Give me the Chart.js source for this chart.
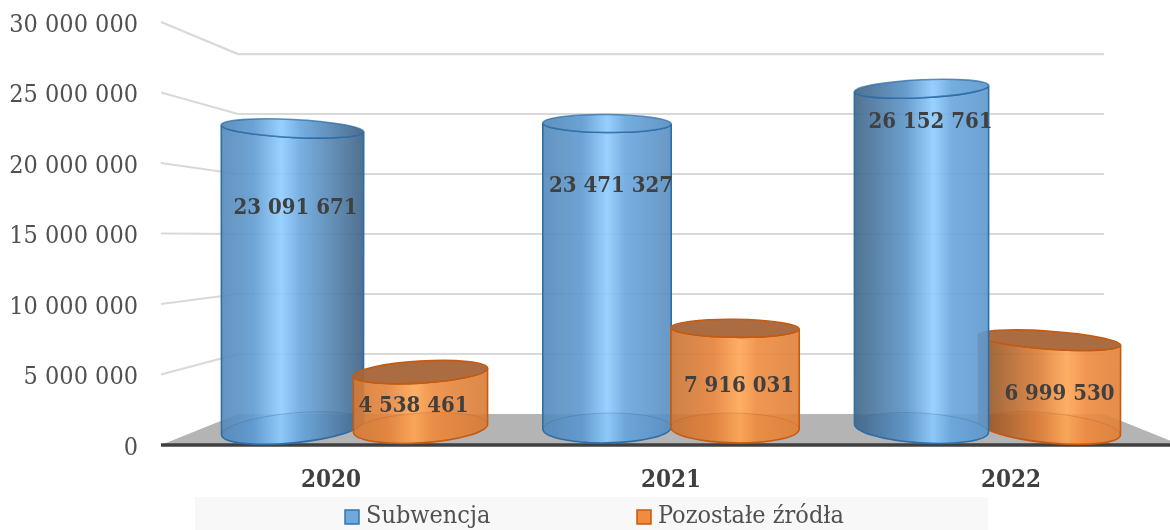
<!DOCTYPE html>
<html lang="pl">
<head>
<meta charset="utf-8">
<style>
html,body{margin:0;padding:0;background:#fff;overflow:hidden;width:1170px;height:530px}
#wrap{position:relative;width:1170px;height:530px;overflow:hidden}
canvas{display:block}
</style>
<script src="https://cdn.jsdelivr.net/npm/chart.js@4/dist/chart.umd.js"></script>
</head>
<body>
<div id="wrap"><canvas id="c" width="1190" height="530"></canvas></div>
<script>
const categories = ['2020', '2021', '2022'];
const subwencja = [23091671, 23471327, 26152761];
const pozostale = [4538461, 7916031, 6999530];
const seriesNames = ['Subwencja', 'Pozostałe źródła'];
const yTicks = [0, 5000000, 10000000, 15000000, 20000000, 25000000, 30000000];

// Appearance of the pseudo-3D scene
const FONT = '"DejaVu Serif Condensed", "DejaVu Serif", serif';
const TEXT = '#404040';
const CENTER_X = 671, EYE_Y = 215;
const BAR_DEPTH = {xf: 0.925, yf: 0.92, dy: 17};    // bars stand mid-way into the floor
const BACK_DEPTH = {xf: 0.849, yf: 0.851, dy: 31};  // back wall
const labelPlace = [
  [{f: 0.265, dx: 3}, {f: 0.205, dx: 4}, {f: 0.098, dx: 9}],
  [{f: 0.62, dx: -7}, {f: 0.585, dx: 4}, {f: 0.62, dx: 10}]
];
const palette = [
  {base: [96, 156, 212], light: [142, 204, 255], dark: [56, 88, 118], rd: 0.8, ld: 0.3, nudge: 0, line: '#2e6ea6', top: [110, 170, 224], ground: 'rgba(70,135,200,0.35)', swatch: '#6fa8dc', swatchLine: '#2e75b6'},
  {base: [232, 132, 58], light: [255, 166, 84], dark: [136, 80, 36], rd: 0.15, ld: 0.2, nudge: 3, line: '#c55a11', top: [168, 102, 58], ground: 'rgba(214,110,40,0.35)', swatch: '#f08c40', swatchLine: '#c55a11'}
];

const fmt = v => String(v).replace(/\B(?=(\d{3})+$)/g, ' ');
const mix = (a, b, t) => a.map((c, i) => Math.round(c + (b[i] - c) * t));
const rgba = (c, a) => `rgba(${c[0]},${c[1]},${c[2]},${a})`;

function sideGradient(ctx, x0, x1, pal, t, alpha) {
  const g = ctx.createLinearGradient(x0, 0, x1, 0);
  const lp = 0.52 + t * 0.1;
  const L = mix(pal.base, pal.dark, Math.max(0, t) * 0.8 + pal.ld);
  const R = mix(pal.base, pal.dark, Math.max(0, -t) * pal.rd + 0.08);
  g.addColorStop(0, rgba(L, alpha));
  g.addColorStop(lp - 0.2, rgba(mix(L, pal.base, 0.85), alpha));
  g.addColorStop(lp, rgba(pal.light, alpha));
  g.addColorStop(lp + 0.14, rgba(mix(pal.light, pal.base, 0.8), alpha));
  g.addColorStop(1, rgba(R, alpha));
  return g;
}

const tilt = (dx, y) => -1.5e-6 * dx * (EYE_Y - y);
const radY = y => Math.max(9, 0.07 * Math.abs(y - EYE_Y));

function drawCylinder(ctx, cx, yTop, yBot, rx, pal, t) {
  const dx = cx - CENTER_X;
  const rT = tilt(dx, yTop), rB = tilt(dx, yBot) * 0.8;
  const ryT = radY(yTop), ryB = radY(yBot);
  const sideFill = sideGradient(ctx, cx - rx, cx + rx, pal, t, 0.9);

  ctx.save();
  // floor ring
  ctx.beginPath();
  ctx.ellipse(cx, yBot, rx, ryB, rB, 0, Math.PI * 2);
  ctx.fillStyle = pal.ground;
  ctx.fill();

  // body
  ctx.beginPath();
  ctx.moveTo(cx - rx * Math.cos(rT), yTop - rx * Math.sin(rT));
  ctx.lineTo(cx - rx * Math.cos(rB), yBot - rx * Math.sin(rB));
  ctx.ellipse(cx, yBot, rx, ryB, rB, Math.PI, 0, true);
  ctx.lineTo(cx + rx * Math.cos(rT), yTop + rx * Math.sin(rT));
  ctx.ellipse(cx, yTop, rx, ryT, rT, 0, Math.PI, false);
  ctx.closePath();
  ctx.fillStyle = sideFill;
  ctx.fill();
  ctx.lineWidth = 1.6;
  ctx.strokeStyle = pal.line;
  ctx.stroke();

  // hint of the back of the floor ring
  ctx.beginPath();
  ctx.ellipse(cx, yBot, rx, ryB, rB, Math.PI, 0, false);
  ctx.lineWidth = 1;
  ctx.strokeStyle = pal.line + '55';
  ctx.stroke();

  // top cap
  ctx.beginPath();
  ctx.ellipse(cx, yTop, rx, ryT, rT, 0, Math.PI * 2);
  ctx.fillStyle = pal === palette[0] ? sideGradient(ctx, cx - rx, cx + rx, pal, t, 0.92) : rgba(pal.top, 0.96);
  ctx.fill();
  ctx.lineWidth = 1.6;
  ctx.strokeStyle = pal === palette[0] ? 'rgba(46,110,166,0.75)' : pal.line;
  ctx.stroke();
  ctx.restore();
}

const scene = {
  id: 'scene',
  beforeDraw(chart) {
    const ctx = chart.ctx, y = chart.scales.y, a = chart.chartArea;
    const backY = py => a.bottom - BACK_DEPTH.dy - (a.bottom - py) * BACK_DEPTH.yf;
    const backX = px => CENTER_X + (px - CENTER_X) * BACK_DEPTH.xf;
    ctx.save();
    // legend backdrop
    ctx.fillStyle = '#f8f8f8';
    ctx.fillRect(195, 497, 793, 33);
    // floor
    ctx.beginPath();
    ctx.moveTo(a.left, a.bottom);
    ctx.lineTo(backX(a.left), backY(a.bottom));
    ctx.lineTo(backX(a.right), backY(a.bottom));
    ctx.lineTo(a.right, a.bottom);
    ctx.closePath();
    ctx.fillStyle = '#b4b4b4';
    ctx.fill();
    // grid: side wall + back wall, taken from the axis ticks
    ctx.strokeStyle = '#d9d9d9';
    ctx.lineWidth = 2.2;
    y.ticks.forEach(t => {
      if (t.value === 0) return;
      const py = y.getPixelForValue(t.value);
      ctx.beginPath();
      ctx.moveTo(a.left, py);
      ctx.lineTo(backX(a.left), backY(py));
      ctx.lineTo(backX(a.right), backY(py));
      ctx.stroke();
    });
    // front axis line
    ctx.strokeStyle = '#404040';
    ctx.lineWidth = 3.5;
    ctx.beginPath();
    ctx.moveTo(a.left, a.bottom);
    ctx.lineTo(a.right, a.bottom);
    ctx.stroke();
    ctx.restore();
  },
  afterDatasetsDraw(chart) {
    const ctx = chart.ctx, a = chart.chartArea;
    const items = [];
    chart.data.datasets.forEach((ds, di) => {
      chart.getDatasetMeta(di).data.forEach((el, i) => {
        const cx = CENTER_X + (el.x - CENTER_X) * BAR_DEPTH.xf;
        const dx = cx - CENTER_X, t = dx / 380;
        const w = el.width * BAR_DEPTH.xf * (1 + t * t * 0.115);
        const yTop = a.bottom - BAR_DEPTH.dy - (a.bottom - el.y) * BAR_DEPTH.yf + palette[di].nudge;
        const yBot = a.bottom - BAR_DEPTH.dy;
        items.push({di, i, cx, t, w, yTop, yBot, v: ds.data[i]});
      });
    });
    items.sort((p, q) => Math.abs(q.cx - CENTER_X) - Math.abs(p.cx - CENTER_X));
    items.forEach(b => drawCylinder(ctx, b.cx, b.yTop, b.yBot, b.w / 2, palette[b.di], b.t));

    // value labels
    ctx.save();
    ctx.font = 'bold 22px ' + FONT;
    ctx.fillStyle = TEXT;
    ctx.textAlign = 'center';
    ctx.textBaseline = 'middle';
    items.forEach(b => {
      const p = labelPlace[b.di][b.i];
      ctx.fillText(fmt(b.v), b.cx + p.dx, b.yTop + (b.yBot - b.yTop) * p.f);
    });
    ctx.restore();

    // legend
    ctx.save();
    ctx.font = '25px ' + FONT;
    ctx.textBaseline = 'middle';
    ctx.textAlign = 'left';
    [345, 637].forEach((x, k) => {
      ctx.fillStyle = palette[k].swatch;
      ctx.strokeStyle = palette[k].swatchLine;
      ctx.lineWidth = 1.5;
      ctx.fillRect(x, 510, 14, 14);
      ctx.strokeRect(x, 510, 14, 14);
      ctx.fillStyle = '#505050';
      ctx.fillText(seriesNames[k], x + 21, 516);
    });
    ctx.restore();
  }
};

new Chart(document.getElementById('c'), {
  type: 'bar',
  data: {
    labels: categories,
    datasets: [
      {label: seriesNames[0], data: subwencja, backgroundColor: 'rgba(0,0,0,0)', borderWidth: 0},
      {label: seriesNames[1], data: pozostale, backgroundColor: 'rgba(0,0,0,0)', borderWidth: 0}
    ]
  },
  plugins: [scene],
  options: {
    responsive: false,
    animation: false,
    events: [],
    layout: {padding: {left: 0, right: 9, top: 22, bottom: 0}},
    categoryPercentage: 0.814,
    barPercentage: 1,
    plugins: {legend: {display: false}, title: {display: false}, tooltip: {enabled: false}},
    scales: {
      x: {
        grid: {display: false, drawTicks: false},
        border: {display: false},
        ticks: {color: TEXT, font: {family: FONT, size: 24, weight: 'bold'}, padding: 21, maxRotation: 0},
        afterFit(s) { s.height = 85; }
      },
      y: {
        min: 0,
        max: 30000000,
        afterBuildTicks(s) { s.ticks = yTicks.map(v => ({value: v})); },
        grid: {display: false, drawTicks: false},
        border: {display: false},
        ticks: {color: '#505050', font: {family: FONT, size: 25}, padding: 23, labelOffset: 3, callback: v => fmt(v)},
        afterFit(s) { s.width = 161; s.paddingTop = 0; s.paddingBottom = 0; }
      }
    }
  }
});
</script>
</body>
</html>
